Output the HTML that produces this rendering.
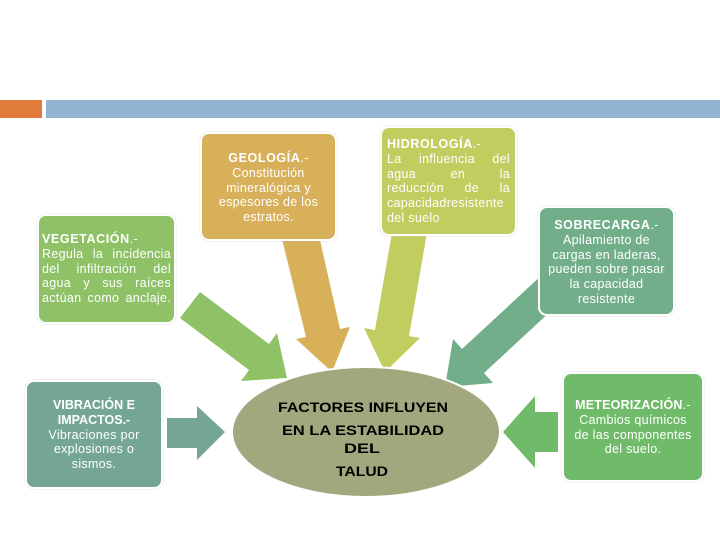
<!DOCTYPE html>
<html><head><meta charset="utf-8"><style>
body{margin:0;width:720px;height:540px;background:#fff;position:relative;overflow:hidden;font-family:"Liberation Sans",sans-serif}
.b{position:absolute;border-radius:9px;color:#fff;font-size:12.5px;line-height:14.8px;box-sizing:border-box;border:2px solid #fff;box-shadow:0 0 1px #bbb;letter-spacing:0.3px}
.b b{letter-spacing:0.6px}
.c{text-align:center}
.l{display:block;text-align:justify;text-align-last:justify;white-space:nowrap}
.l.e{text-align-last:left}
</style></head><body>
<div style="position:absolute;left:0;top:100px;width:42px;height:18px;background:#e07b3c"></div>
<div style="position:absolute;left:46px;top:100px;width:674px;height:18px;background:#93b3d2"></div>
<svg width="720" height="540" style="position:absolute;left:0;top:0">
<polygon fill="#8fc267" points="180,318 200,292 269,344 277,333 287,378 241,381 249,370"/>
<polygon fill="#d8b05a" points="282,239 318,231 340,329 350,327 332,372 296,339 306,337"/>
<polygon fill="#c2cd5f" points="393,227 427,233 409,336 420,338 385,372 364,328 375,330"/>
<polygon fill="#72ae8a" points="544,273 566,297 484,373 493,383 445,387 453,339 462,349"/>
<polygon fill="#74a597" points="167,418 197,418 197,406 225,432 197,460 197,448 167,448"/>
<polygon fill="#6fbb6a" points="558,412 535,412 535,396 503,432 535,468 535,452 558,452"/>
<ellipse cx="366" cy="432" rx="134" ry="65" fill="#a2a77d" stroke="#fff" stroke-width="2"/>
<g font-family="Liberation Sans, sans-serif" font-size="14" font-weight="bold" fill="#000" text-anchor="middle">
<text x="363" y="412" textLength="170" lengthAdjust="spacingAndGlyphs">FACTORES INFLUYEN</text>
<text x="363" y="435" textLength="162" lengthAdjust="spacingAndGlyphs">EN LA ESTABILIDAD</text>
<text x="362" y="453" textLength="36" lengthAdjust="spacingAndGlyphs">DEL</text>
<text x="362" y="476" textLength="52" lengthAdjust="spacingAndGlyphs">TALUD</text>
</g>
</svg>
<div class="b c" style="left:200px;top:132px;width:137px;height:109px;background:#d8b05a;padding:17px 4px 0"><b>GEOLOGÍA</b>.-<br>Constitución<br>mineralógica y<br>espesores de los<br>estratos.</div>
<div class="b" style="left:37px;top:214px;width:139px;height:110px;background:#8fc267;padding:16px 3px 0"><span class="l e"><b>VEGETACIÓN</b>.-</span><span class="l">Regula la incidencia</span><span class="l">del infiltración del</span><span class="l">agua y sus raíces</span><span class="l">actúan como anclaje.</span></div>
<div class="b" style="left:380px;top:126px;width:137px;height:110px;background:#c2cd5f;padding:9px 5px 0"><span class="l e"><b>HIDROLOGÍA</b>.-</span><span class="l">La influencia del</span><span class="l">agua en la</span><span class="l">reducción de la</span><span class="l">capacidadresistente</span><span class="l e">del suelo</span></div>
<div class="b c" style="left:538px;top:206px;width:137px;height:110px;background:#72ae8a;padding:10px 2px 0"><b>SOBRECARGA</b>.-<br>Apilamiento de<br>cargas en laderas,<br>pueden sobre pasar<br>la capacidad<br>resistente</div>
<div class="b c" style="left:25px;top:380px;width:138px;height:109px;background:#74a597;padding:16px 2px 0"><b style="letter-spacing:0">VIBRACIÓN E<br>IMPACTOS.-</b><br>Vibraciones por<br>explosiones o<br>sismos.</div>
<div class="b c" style="left:562px;top:372px;width:142px;height:110px;background:#6fbb6a;padding:24px 1px 0"><b style="letter-spacing:0.2px">METEORIZACIÓN</b>.-<br>Cambios químicos<br>de las componentes<br>del suelo.</div>
</body></html>
